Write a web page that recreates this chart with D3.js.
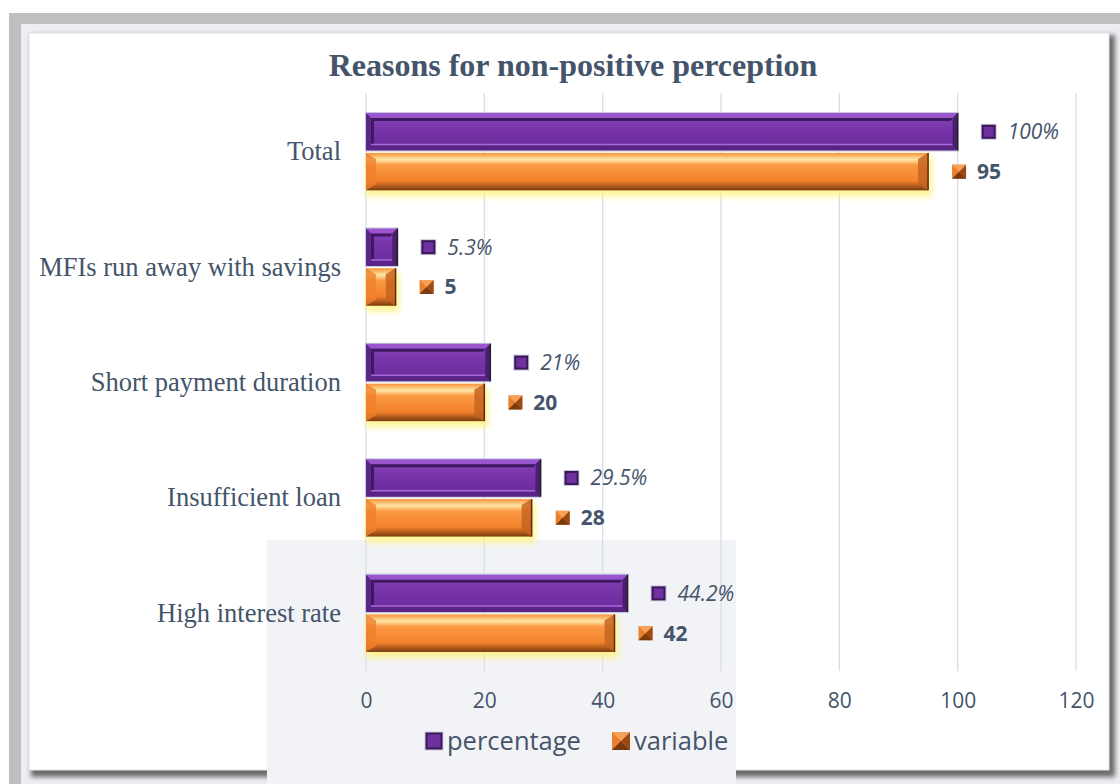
<!DOCTYPE html>
<html>
<head>
<meta charset="utf-8">
<script src="https://cdn.jsdelivr.net/npm/d3@7"></script>
<style>
  body { margin: 0; background: #fff; }
  svg { display: block; }
</style>
</head>
<body>
<div id="chart"></div>
<script>
const categories = ['Total', 'MFIs run away with savings', 'Short payment duration', 'Insufficient loan', 'High interest rate'];
const percentage = [100, 5.3, 21, 29.5, 44.2];
const variable = [95, 5, 20, 28, 42];
const pctLabels = ['100%', '5.3%', '21%', '29.5%', '44.2%'];
const xTicks = [0, 20, 40, 60, 80, 100, 120];
const seriesNames = ['percentage', 'variable'];

const W = 1120, H = 784;
const textColor = '#44546a';

var svg = d3.select('#chart').append('svg')
	.attr('width', W)
	.attr('height', H)

var defs = svg.append('defs')

// gradients for the bevelled bars
var gp = defs.append('linearGradient').attr('id', 'gPurple')
	.attr('x1', 0).attr('y1', 0).attr('x2', 0).attr('y2', 1)
gp.append('stop').attr('offset', '0%').attr('stop-color', '#8a45bd')
gp.append('stop').attr('offset', '50%').attr('stop-color', '#7432a6')
gp.append('stop').attr('offset', '100%').attr('stop-color', '#6a2b9a')

var go = defs.append('linearGradient').attr('id', 'gOrange')
	.attr('x1', 0).attr('y1', 0).attr('x2', 0).attr('y2', 1)
go.append('stop').attr('offset', '0%').attr('stop-color', '#f5923a')
go.append('stop').attr('offset', '18%').attr('stop-color', '#ffe6a6')
go.append('stop').attr('offset', '32%').attr('stop-color', '#fb9a45')
go.append('stop').attr('offset', '75%').attr('stop-color', '#f3812b')
go.append('stop').attr('offset', '90%').attr('stop-color', '#a9561c')
go.append('stop').attr('offset', '100%').attr('stop-color', '#7a3b10')

var glow = defs.append('filter').attr('id', 'glow')
	.attr('x', '-10%').attr('y', '-30%').attr('width', '120%').attr('height', '160%')
glow.append('feGaussianBlur').attr('stdDeviation', 3)

var shadow = defs.append('filter').attr('id', 'shadow')
	.attr('x', '-5%').attr('y', '-5%').attr('width', '110%').attr('height', '110%')
shadow.append('feGaussianBlur').attr('stdDeviation', 2.5)

// outer frame
svg.append('rect')
	.attr('x', 9).attr('y', 13).attr('width', W - 9).attr('height', H - 13)
	.attr('fill', '#bfbfbf')
svg.append('rect')
	.attr('x', 21).attr('y', 24).attr('width', W - 21).attr('height', H - 24)
	.attr('fill', '#eceef1')
svg.append('rect')
	.attr('x', 31).attr('y', 35).attr('width', 1084).attr('height', 742)
	.attr('fill', '#6b6b6b')
	.attr('filter', 'url(#shadow)')
svg.append('rect')
	.attr('x', 29).attr('y', 33).attr('width', 1080).attr('height', 737)
	.attr('fill', '#ffffff')
	.attr('stroke', '#e2e4ea')
	.attr('stroke-width', 1)

// faint watermark block
svg.append('rect')
	.attr('x', 267).attr('y', 540).attr('width', 469).attr('height', 244)
	.attr('fill', '#f2f3f6')

var x = d3.scaleLinear().domain([0, 120]).range([366, 1076])
var y = d3.scaleBand().domain(categories).range([94, 671]).paddingInner(0.33).paddingOuter(0.165)
var ys = d3.scaleBand().domain(seriesNames).range([0, y.bandwidth()]).paddingInner(0.06)

// title
svg.append('text')
	.attr('x', 573).attr('y', 76)
	.attr('text-anchor', 'middle')
	.style('font-family', 'Liberation Serif, Times New Roman, serif')
	.style('font-weight', 'bold')
	.style('font-size', '32px')
	.style('fill', textColor)
	.text('Reasons for non-positive perception')

// gridlines
svg.append('g').selectAll('line')
	.data(xTicks)
	.join('line')
	.attr('x1', d => x(d)).attr('x2', d => x(d))
	.attr('y1', 93).attr('y2', 671)
	.attr('stroke', '#d9dde6')
	.attr('stroke-width', 1.3)

// x axis labels
var xAxis = svg.append('g')
	.attr('transform', 'translate(0,' + 671 + ')')
	.call(d3.axisBottom(x).tickValues(xTicks).tickSize(0).tickPadding(22))
xAxis.select('.domain').remove()
xAxis.selectAll('text')
	.style('font-family', 'Open Sans, Noto Sans, sans-serif')
	.style('font-size', '21px')
	.style('fill', textColor)

// category labels
var yAxis = svg.append('g')
	.attr('transform', 'translate(' + 366 + ',0)')
	.call(d3.axisLeft(y).tickSize(0).tickPadding(25))
yAxis.select('.domain').remove()
yAxis.selectAll('text')
	.style('font-family', 'Liberation Serif, Times New Roman, serif')
	.style('font-size', '26.5px')
	.style('fill', textColor)

function purpleBar(g, x0, x1, y0, h) {
	var w = x1 - x0, b = 5
	g.append('rect').attr('x', x0).attr('y', y0).attr('width', w).attr('height', h)
		.attr('fill', 'url(#gPurple)')
		.attr('stroke', '#c4c8da').attr('stroke-width', 2)
	if (w < 2 * b + 2) b = Math.max(2, w / 4)
	// inset bevel
	g.append('polygon')
		.attr('points', [[x0, y0], [x1, y0], [x1 - b, y0 + b], [x0 + b, y0 + b]].join(' '))
		.attr('fill', '#9b55cf')
	g.append('polygon')
		.attr('points', [[x0 + b, y0 + b], [x1 - b, y0 + b], [x1 - b - 2, y0 + b + 3], [x0 + b + 2, y0 + b + 3]].join(' '))
		.attr('fill', '#3f1960')
	g.append('polygon')
		.attr('points', [[x0, y0], [x0 + b, y0 + b], [x0 + b, y0 + h - b], [x0, y0 + h]].join(' '))
		.attr('fill', '#5b2487')
	g.append('polygon')
		.attr('points', [[x0 + b, y0 + b], [x0 + b + 3, y0 + b + 3], [x0 + b + 3, y0 + h - b - 2], [x0 + b, y0 + h - b]].join(' '))
		.attr('fill', '#3f1960')
	g.append('polygon')
		.attr('points', [[x0, y0 + h], [x0 + b, y0 + h - b], [x1 - b, y0 + h - b], [x1, y0 + h]].join(' '))
		.attr('fill', '#5a2486')
	g.append('line')
		.attr('x1', x0 + b).attr('x2', x1 - b).attr('y1', y0 + h - b - 1).attr('y2', y0 + h - b - 1)
		.attr('stroke', '#a468d6').attr('stroke-width', 1.5)
	g.append('polygon')
		.attr('points', [[x1, y0], [x1, y0 + h], [x1 - b, y0 + h - b], [x1 - b, y0 + b]].join(' '))
		.attr('fill', '#4c1d72')
	g.append('line')
		.attr('x1', x1).attr('x2', x1).attr('y1', y0).attr('y2', y0 + h)
		.attr('stroke', '#222').attr('stroke-width', 1.5)
}

function orangeBar(g, x0, x1, y0, h) {
	var w = x1 - x0, b = Math.min(10, w / 3)
	g.append('rect').attr('x', x0).attr('y', y0 + 4).attr('width', w + 4).attr('height', h + 2)
		.attr('fill', '#fff27a').attr('opacity', 0.8)
		.attr('filter', 'url(#glow)')
	g.append('rect').attr('x', x0).attr('y', y0).attr('width', w).attr('height', h)
		.attr('fill', 'url(#gOrange)')
	// pillow ends
	g.append('polygon')
		.attr('points', [[x1, y0], [x1, y0 + h], [x1 - b, y0 + h - 6], [x1 - b, y0 + 6]].join(' '))
		.attr('fill', '#c5641f').attr('opacity', 0.85)
	g.append('polygon')
		.attr('points', [[x0, y0], [x0 + b, y0 + 6], [x0 + b, y0 + h - 6], [x0, y0 + h]].join(' '))
		.attr('fill', '#f0802a').attr('opacity', 0.8)
	g.append('line')
		.attr('x1', x1).attr('x2', x1).attr('y1', y0).attr('y2', y0 + h)
		.attr('stroke', '#5e2c0a').attr('stroke-width', 1.5)
}

function purpleMarker(g, cx, cy, s) {
	g.append('rect').attr('x', cx - s / 2).attr('y', cy - s / 2).attr('width', s).attr('height', s)
		.attr('fill', '#c9cbe0')
	g.append('rect').attr('x', cx - s / 2 + 2).attr('y', cy - s / 2 + 2).attr('width', s - 4).attr('height', s - 4)
		.attr('fill', '#7030a0')
	g.append('rect').attr('x', cx - s / 2 + 2).attr('y', cy - s / 2 + 2).attr('width', s - 4).attr('height', s - 4)
		.attr('fill', 'none').attr('stroke', '#3a1757').attr('stroke-width', 2)
}

function orangeMarker(g, cx, cy, s) {
	var l = cx - s / 2, t = cy - s / 2
	g.append('rect').attr('x', l).attr('y', t).attr('width', s).attr('height', s).attr('fill', '#e8802e')
	g.append('polygon')
		.attr('points', [[l, t + s], [cx, cy], [l + s, t + s]].join(' ')).attr('fill', '#7a3a10')
	g.append('polygon')
		.attr('points', [[l + s, t], [cx, cy], [l + s, t + s]].join(' ')).attr('fill', '#9a4a15')
	g.append('polygon')
		.attr('points', [[l, t], [cx, cy], [l + s, t]].join(' ')).attr('fill', '#f7a05a')
}

var bars = svg.append('g')
categories.forEach(function(c, i) {
	var yp = y(c) + ys('percentage'), yv = y(c) + ys('variable'), h = ys.bandwidth()
	orangeBar(bars, x(0), x(variable[i]), yv, h)
	purpleBar(bars, x(0), x(percentage[i]), yp, h)

	// data labels
	purpleMarker(bars, x(percentage[i]) + 31, yp + h / 2, 16)
	bars.append('text')
		.attr('x', x(percentage[i]) + 50).attr('y', yp + h / 2)
		.attr('dy', '0.35em')
		.style('font-family', 'Open Sans, Noto Sans, sans-serif')
		.style('font-style', 'italic')
		.style('font-size', '21px')
		.style('fill', textColor)
		.text(pctLabels[i])
	orangeMarker(bars, x(variable[i]) + 31, yv + h / 2, 14)
	bars.append('text')
		.attr('x', x(variable[i]) + 49).attr('y', yv + h / 2)
		.attr('dy', '0.35em')
		.style('font-family', 'Open Sans, Noto Sans, sans-serif')
		.style('font-weight', 'bold')
		.style('font-size', '21px')
		.style('fill', textColor)
		.text(variable[i])
})

// legend
var legend = svg.append('g')
purpleMarker(legend, 434, 741, 19)
legend.append('text')
	.attr('x', 447).attr('y', 741).attr('dy', '0.35em')
	.style('font-family', 'Open Sans, Noto Sans, sans-serif')
	.style('font-size', '25.5px')
	.style('fill', textColor)
	.text(seriesNames[0])
orangeMarker(legend, 621, 741, 18)
legend.append('text')
	.attr('x', 634).attr('y', 741).attr('dy', '0.35em')
	.style('font-family', 'Open Sans, Noto Sans, sans-serif')
	.style('font-size', '25.5px')
	.style('fill', textColor)
	.text(seriesNames[1])
</script>
</body>
</html>
